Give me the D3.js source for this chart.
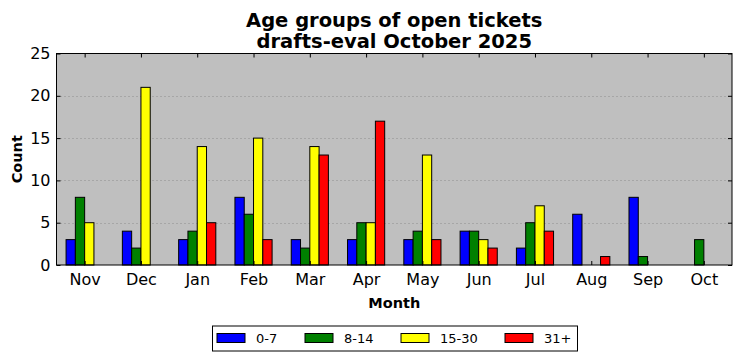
<!DOCTYPE html>
<html>
<head>
<meta charset="utf-8">
<script src="https://cdn.jsdelivr.net/npm/d3@7"></script>
<style>
  body { margin: 0; background: #fff; }
  text { font-family: "DejaVu Sans", sans-serif; }
</style>
</head>
<body>
<div id="chart"></div>
<script>
// data
let months = ["Nov", "Dec", "Jan", "Feb", "Mar", "Apr", "May", "Jun", "Jul", "Aug", "Sep", "Oct"];
let groups = ["0-7", "8-14", "15-30", "31+"];
let colors = ["#0000ff", "#008000", "#ffff00", "#ff0000"];
let age0to7 = [3, 4, 3, 8, 3, 3, 3, 4, 2, 6, 8, 0];
let age8to14 = [8, 2, 4, 6, 2, 5, 4, 4, 5, 0, 1, 3];
let age15to30 = [5, 21, 14, 15, 14, 5, 13, 3, 7, 0, 0, 0];
let age31plus = [0, 0, 5, 3, 13, 17, 3, 2, 4, 1, 0, 0];
let yTicks = [0, 5, 10, 15, 20, 25];

let series = [age0to7, age8to14, age15to30, age31plus];

let svgWidth = 742;
let svgHeight = 361;
let plotLeft = 56.5, plotRight = 732, plotTop = 53.5, plotBottom = 265;
let barWidth = 0.165;

let svg = d3.select("#chart").append("svg")
  .attr("width", svgWidth)
  .attr("height", svgHeight);

let xScale = d3.scaleLinear().domain([-0.5, months.length - 0.5]).range([plotLeft, plotRight]);
let yScale = d3.scaleLinear().domain([0, 25]).range([plotBottom, plotTop]);

// plot background
svg.append("rect")
  .attr("x", plotLeft).attr("y", plotTop)
  .attr("width", plotRight - plotLeft).attr("height", plotBottom - plotTop)
  .attr("fill", "#bfbfbf");

// dotted grid
svg.append("g")
  .selectAll("line")
  .data(yTicks.slice(1, -1))
  .enter()
  .append("line")
  .attr("x1", plotLeft).attr("x2", plotRight)
  .attr("y1", (d) => Math.round(yScale(d)) + 0.5)
  .attr("y2", (d) => Math.round(yScale(d)) + 0.5)
  .attr("stroke", "#808080")
  .attr("stroke-width", 0.8)
  .attr("stroke-dasharray", "1,3");

// bars
series.forEach((vals, s) => {
  svg.append("g")
    .selectAll("rect")
    .data(vals)
    .enter()
    .append("rect")
    .attr("x", (d, i) => xScale(i - 2 * barWidth + s * barWidth))
    .attr("y", (d) => yScale(d))
    .attr("width", xScale(barWidth) - xScale(0))
    .attr("height", (d) => yScale(0) - yScale(d))
    .attr("fill", colors[s])
    .attr("stroke", "#000")
    .attr("stroke-width", 1);
});

// axes (matplotlib classic style, ticks inward on all sides)
let xAxis = d3.axisBottom(xScale).tickValues(d3.range(months.length))
  .tickFormat((d) => months[d]).tickSizeInner(-4).tickSizeOuter(0).tickPadding(9);
let xAxisTop = d3.axisTop(xScale).tickValues(d3.range(months.length))
  .tickFormat("").tickSizeInner(-4).tickSizeOuter(0);
let yAxis = d3.axisLeft(yScale).tickValues(yTicks)
  .tickSizeInner(-4).tickSizeOuter(0).tickPadding(6);
let yAxisRight = d3.axisRight(yScale).tickValues(yTicks)
  .tickFormat("").tickSizeInner(-4).tickSizeOuter(0);

let gx = svg.append("g").attr("transform", "translate(0," + plotBottom + ")").call(xAxis);
svg.append("g").attr("transform", "translate(0," + plotTop + ")").call(xAxisTop);
let gy = svg.append("g").attr("transform", "translate(" + plotLeft + ",0)").call(yAxis);
svg.append("g").attr("transform", "translate(" + plotRight + ",0)").call(yAxisRight);

svg.selectAll(".domain").remove();
svg.selectAll(".tick line").attr("stroke", "#000");
gx.selectAll("text").style("font-size", "16px").style("fill", "#000");
gy.selectAll("text").style("font-size", "16px").style("fill", "#000");

// frame
svg.append("rect")
  .attr("x", plotLeft).attr("y", plotTop)
  .attr("width", plotRight - plotLeft).attr("height", plotBottom - plotTop)
  .attr("fill", "none")
  .attr("stroke", "#000")
  .attr("stroke-width", 1);

// titles
svg.append("text").text("Age groups of open tickets")
  .attr("x", (plotLeft + plotRight) / 2).attr("y", 26.5)
  .attr("text-anchor", "middle")
  .style("font-size", "19.5px").style("font-weight", "bold");
svg.append("text").text("drafts-eval October 2025")
  .attr("x", (plotLeft + plotRight) / 2).attr("y", 47.5)
  .attr("text-anchor", "middle")
  .style("font-size", "19.5px").style("font-weight", "bold");

svg.append("text").text("Month")
  .attr("x", (plotLeft + plotRight) / 2).attr("y", 308)
  .attr("text-anchor", "middle")
  .style("font-size", "14.5px").style("font-weight", "bold");

svg.append("text").text("Count")
  .attr("transform", "translate(22," + (plotTop + plotBottom) / 2 + ") rotate(-90)")
  .attr("text-anchor", "middle")
  .style("font-size", "14.5px").style("font-weight", "bold");

// legend
let legend = svg.append("g");
legend.append("rect")
  .attr("x", 212.5).attr("y", 326)
  .attr("width", 365).attr("height", 25)
  .attr("fill", "#fff")
  .attr("stroke", "#000")
  .attr("stroke-width", 1);

let legendX = [217, 305, 401, 505];
groups.forEach((g, i) => {
  legend.append("rect")
    .attr("x", legendX[i]).attr("y", 333.5)
    .attr("width", 28).attr("height", 9)
    .attr("fill", colors[i])
    .attr("stroke", "#000")
    .attr("stroke-width", 1);
  legend.append("text").text(g)
    .attr("x", legendX[i] + 39).attr("y", 343)
    .style("font-size", "13px");
});
</script>
</body>
</html>
